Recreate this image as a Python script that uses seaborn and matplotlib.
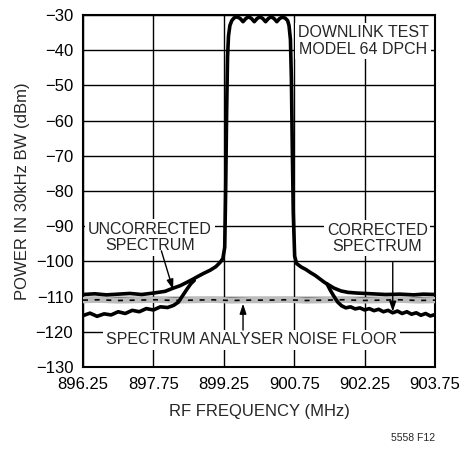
import seaborn as sns
import matplotlib.pyplot as plt

# traces (MHz, dBm)
unc_freq = [896.25, 896.5, 896.75, 897.0, 897.25, 897.5, 897.75, 898.0, 898.17, 898.32,
            898.47, 898.6, 898.68, 898.82, 898.96, 899.08, 899.17, 899.23, 899.27, 899.29,
            899.31, 899.33, 899.35, 899.38, 899.42, 899.47, 899.53, 899.6, 899.66, 899.72,
            899.78, 899.84, 899.9, 899.96, 900.02, 900.08, 900.14, 900.2, 900.26, 900.32,
            900.38, 900.44, 900.5, 900.56, 900.61, 900.64, 900.67, 900.69, 900.71, 900.73,
            900.76, 900.8, 900.9, 901.0, 901.1, 901.2, 901.3, 901.4, 901.5, 901.6,
            901.75, 901.9, 902.1, 902.4, 902.7, 903.0, 903.3, 903.5, 903.75]
unc_power = [-109.4, -109.2, -109.5, -109.3, -109.1, -109.4, -109.0, -108.5, -107.6, -106.9,
             -105.9, -105.0, -104.4, -103.4, -102.5, -101.5, -100.3, -99.2, -96.0, -80.0,
             -58.0, -42.0, -36.0, -33.0, -31.6, -30.8, -30.5, -31.0, -31.9, -31.0,
             -30.5, -31.0, -31.9, -31.0, -30.5, -31.0, -31.9, -31.0, -30.5, -31.0,
             -31.9, -31.0, -30.6, -30.9, -31.6, -33.0, -37.0, -48.0, -68.0, -86.0,
             -98.5, -100.6, -101.6, -102.3, -103.2, -104.0, -105.0, -106.0, -106.8, -107.6,
             -108.4, -108.8, -109.0, -109.2, -109.4, -109.3, -109.5, -109.3, -109.4]

cor_left_freq = [896.25, 896.4, 896.55, 896.7, 896.85, 897.0, 897.15, 897.3, 897.45, 897.6,
                 897.75, 897.9, 898.05, 898.18, 898.28, 898.38, 898.47, 898.55, 898.62]
cor_left_power = [-115.4, -114.7, -115.6, -114.9, -115.2, -114.3, -114.8, -113.9, -114.3, -113.4,
                  -113.8, -112.9, -113.1, -112.5, -111.6, -109.6, -107.8, -106.3, -105.4]

cor_right_freq = [901.45, 901.52, 901.6, 901.68, 901.76, 901.85, 901.95, 902.05, 902.15, 902.25,
                  902.35, 902.45, 902.55, 902.65, 902.75, 902.85, 902.95, 903.05, 903.15, 903.25,
                  903.35, 903.45, 903.55, 903.65, 903.75]
cor_right_power = [-106.4, -108.2, -110.0, -111.6, -112.6, -113.2, -112.9, -113.5, -113.2, -113.8,
                   -113.4, -114.0, -113.6, -114.3, -113.9, -114.6, -114.1, -114.8, -114.3, -115.0,
                   -114.6, -115.3, -114.8, -115.5, -115.1]

floor_freq = [896.25, 896.6, 897.0, 897.4, 897.8, 898.2, 898.6, 899.0, 899.4, 899.8,
              900.2, 900.6, 901.0, 901.4, 901.8, 902.2, 902.6, 903.0, 903.4, 903.75]
floor_power = [-111.0, -110.9, -111.1, -111.0, -110.9, -111.1, -111.0, -110.9, -111.1, -111.0,
               -111.0, -110.9, -111.1, -111.0, -110.9, -111.1, -111.0, -110.9, -111.1, -111.0]

x_ticks = [896.25, 897.75, 899.25, 900.75, 902.25, 903.75]
x_labels = ['896.25', '897.75', '899.25', '900.75', '902.25', '903.75']
y_ticks = [-130, -120, -110, -100, -90, -80, -70, -60, -50, -40, -30]

sns.set_style('white')
plt.rcParams['font.family'] = ['Liberation Sans', 'DejaVu Sans']

fig = plt.figure(figsize=(4.61, 4.49), dpi=100)
ax = fig.add_axes([0.180, 0.1826, 0.7636, 0.784])

fs = 11.5
lw = 2.6
sns.lineplot(x=floor_freq, y=floor_power, ax=ax, color='#bcbcbc', lw=4.5, estimator=None, zorder=3)
sns.lineplot(x=floor_freq, y=floor_power, ax=ax, color='black', lw=1.2, estimator=None, zorder=3,
             linestyle=(0, (3, 4)))
sns.lineplot(x=unc_freq, y=unc_power, ax=ax, color='black', lw=lw, estimator=None, zorder=4)
sns.lineplot(x=cor_left_freq, y=cor_left_power, ax=ax, color='black', lw=lw, estimator=None, zorder=4)
sns.lineplot(x=cor_right_freq, y=cor_right_power, ax=ax, color='black', lw=lw, estimator=None, zorder=4)

ax.set_xlim(896.25, 903.75)
ax.set_ylim(-130, -30)
ax.set_xticks(x_ticks)
ax.set_xticklabels(x_labels)
ax.set_yticks(y_ticks)
ax.grid(True, color='black', lw=1.0, zorder=1)
ax.set_axisbelow(True)
for s in ax.spines.values():
    s.set_color('black')
    s.set_linewidth(1.5)
ax.tick_params(length=0, labelsize=fs + 0.5, pad=7, colors='black')
ax.set_xlabel('RF FREQUENCY (MHz)', fontsize=fs + 0.5, labelpad=9)
ax.set_ylabel('POWER IN 30kHz BW (dBm)', fontsize=fs + 0.5, labelpad=4)

box = dict(facecolor='white', edgecolor='none', pad=2)
ax.text(902.22, -37.4, 'DOWNLINK TEST\nMODEL 64 DPCH', fontsize=fs, ha='center', va='center',
        linespacing=1.1, bbox=box, zorder=5)
ax.text(897.68, -93.2, 'UNCORRECTED\nSPECTRUM', fontsize=fs, ha='center', va='center',
        linespacing=1.1, bbox=box, zorder=5)
ax.text(902.52, -93.4, 'CORRECTED\nSPECTRUM', fontsize=fs, ha='center', va='center',
        linespacing=1.1, bbox=box, zorder=5)
ax.text(899.84, -122.3, 'SPECTRUM ANALYSER NOISE FLOOR', fontsize=fs, ha='center', va='center',
        bbox=box, zorder=5)

arrow = dict(arrowstyle='-|>,head_length=0.6,head_width=0.2', color='black', lw=1.0,
             shrinkA=0, shrinkB=0)
ax.annotate('', xy=(898.17, -108.0), xytext=(897.92, -97.0), arrowprops=arrow, zorder=6)
ax.annotate('', xy=(902.85, -114.3), xytext=(902.85, -100.3), arrowprops=arrow, zorder=6)
ax.annotate('', xy=(899.66, -112.0), xytext=(899.66, -119.5), arrowprops=arrow, zorder=6)

fig.text(0.9436, 0.013, '5558 F12', fontsize=7.5, ha='right', va='bottom')

fig.savefig('out.png', dpi=100)
